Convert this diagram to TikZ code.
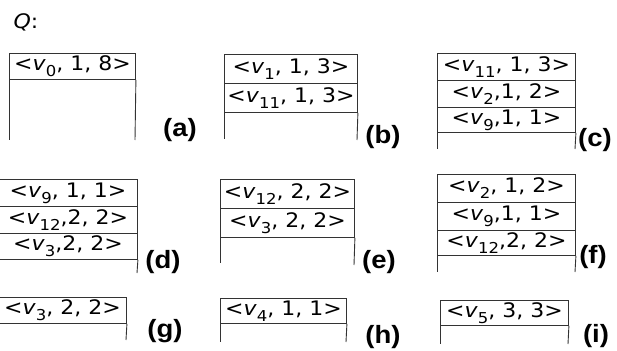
\documentclass[tikz,border=0pt]{standalone}
\usepackage{fontspec}
\setmainfont{DejaVu Sans}
\newfontfamily\labfont{Liberation Sans}
\newcommand{\vv}[1]{\textit{v}\raisebox{-0.3em}{\fontsize{15}{15}\selectfont #1}}
\newcommand{\stretchtxt}[1]{\scalebox{1.1}[1]{#1}}
\tikzset{
  cell/.style={draw=black!80, line width=0.9pt, anchor=north west, inner sep=0pt,
    font=\fontsize{20}{20}\selectfont},
  side/.style={draw=black!80, line width=0.9pt},
  lab/.style={font=\labfont\bfseries\fontsize{25}{25}\selectfont, inner sep=0pt}
}
\newcommand{\cell}[6]{\node[cell, minimum width=#4pt, minimum height=#5pt] (#1) at (#2,#3) {\stretchtxt{#6}};}
\begin{document}
\begin{tikzpicture}[x=1pt,y=-1pt]
\useasboundingbox (0,0) rectangle (617,350);
\node[font=\fontsize{20}{20}\selectfont, inner sep=0pt] (q) at (26,22) {\stretchtxt{\textit{Q}:}};
% (a)
\cell{a1}{9}{53}{126}{26}{<\vv{0}, 1, 8>}
\coordinate (abl) at (9,140); \coordinate (abr) at (135,140);
\draw[side] (a1.south west) -- (abl); \draw[side] (a1.south east) -- (abr);
\node[lab] (la) at (180,130) {\scalebox{1.1}[1]{(a)}};
% (b)
\cell{b1}{224}{54}{133}{29}{<\vv{1}, 1, 3>}
\cell{b2}{224}{83}{133}{29}{<\vv{11}, 1, 3>}
\coordinate (bbl) at (224,139); \coordinate (bbr) at (357,140);
\draw[side] (b2.south west) -- (bbl); \draw[side] (b2.south east) -- (bbr);
\node[lab] (lb) at (383,137) {\scalebox{1.1}[1]{(b)}};
% (c)
\cell{c1}{437}{53}{138}{27}{<\vv{11}, 1, 3>}
\cell{c2}{437}{80}{138}{27}{<\vv{2},1, 2>}
\cell{c3}{437}{107}{138}{25}{<\vv{9},1, 1>}
\coordinate (cbl) at (437,149); \coordinate (cbr) at (575,149);
\draw[side] (c3.south west) -- (cbl); \draw[side] (c3.south east) -- (cbr);
\node[lab] (lc) at (595,140) {\scalebox{1.1}[1]{(c)}};
% (d)
\cell{d1}{-2}{179}{139}{27}{<\vv{9}, 1, 1>}
\cell{d2}{-2}{206}{139}{27}{<\vv{12},2, 2>}
\cell{d3}{-2}{233}{139}{26}{<\vv{3},2, 2>}
\coordinate (dbr) at (137,273);
\draw[side] (d3.south east) -- (dbr);
\node[lab] (ld) at (163,262) {\scalebox{1.1}[1]{(d)}};
% (e)
\cell{e1}{220}{179}{134}{29}{<\vv{12}, 2, 2>}
\cell{e2}{220}{208}{134}{29}{<\vv{3}, 2, 2>}
\coordinate (ebl) at (220,263); \coordinate (ebr) at (354,265);
\draw[side] (e2.south west) -- (ebl); \draw[side] (e2.south east) -- (ebr);
\node[lab] (le) at (379,262) {\scalebox{1.1}[1]{(e)}};
% (f)
\cell{f1}{437}{174}{138}{28}{<\vv{2}, 1, 2>}
\cell{f2}{437}{202}{138}{28}{<\vv{9},1, 1>}
\cell{f3}{437}{230}{138}{25}{<\vv{12},2, 2>}
\coordinate (fbl) at (437,272); \coordinate (fbr) at (575,272);
\draw[side] (f3.south west) -- (fbl); \draw[side] (f3.south east) -- (fbr);
\node[lab] (lf) at (593,257) {\scalebox{1.1}[1]{(f)}};
% (g)
\cell{g1}{-2}{297}{128}{26}{<\vv{3}, 2, 2>}
\coordinate (gbr) at (126,340);
\draw[side] (g1.south east) -- (gbr);
\node[lab] (lg) at (165,331) {\scalebox{1.1}[1]{(g)}};
% (h)
\cell{h1}{220}{298}{126}{25}{<\vv{4}, 1, 1>}
\coordinate (hbl) at (220,342); \coordinate (hbr) at (346,342);
\draw[side] (h1.south west) -- (hbl); \draw[side] (h1.south east) -- (hbr);
\node[lab] (lh) at (383,337) {\scalebox{1.1}[1]{(h)}};
% (i)
\cell{i1}{440}{300}{128}{25}{<\vv{5}, 3, 3>}
\coordinate (ibl) at (440,344); \coordinate (ibr) at (568,344);
\draw[side] (i1.south west) -- (ibl); \draw[side] (i1.south east) -- (ibr);
\node[lab] (li) at (596,336) {\scalebox{1.1}[1]{(i)}};
\end{tikzpicture}
\end{document}
